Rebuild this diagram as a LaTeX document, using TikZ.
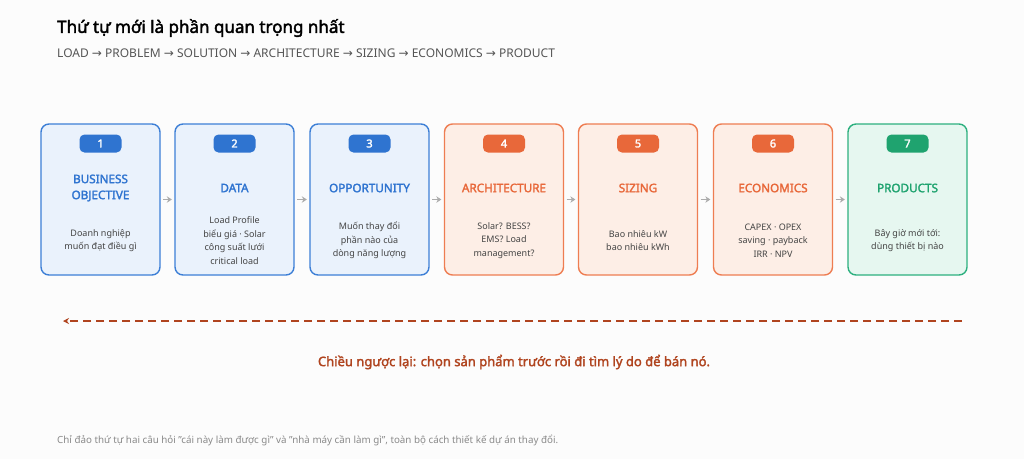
\documentclass[tikz,border=0pt]{standalone}
\usepackage{fontspec}
\setmainfont{Noto Sans}[AutoFakeBold=2.2]
\newfontfamily\arr{DejaVu Sans}
\usetikzlibrary{arrows.meta}
\definecolor{bg}{HTML}{FCFCFC}
\definecolor{bstroke}{HTML}{3D7FD6}
\definecolor{bfill}{HTML}{EAF2FC}
\definecolor{bdark}{HTML}{2F74D0}
\definecolor{ostroke}{HTML}{EE7D52}
\definecolor{ofill}{HTML}{FDEEE6}
\definecolor{odark}{HTML}{E8683A}
\definecolor{gstroke}{HTML}{2DB07F}
\definecolor{gfill}{HTML}{E6F7F0}
\definecolor{gdark}{HTML}{1FA36F}
\definecolor{txt}{HTML}{444444}
\definecolor{sub}{HTML}{555555}
\definecolor{foot}{HTML}{8A8A8A}
\definecolor{rev}{HTML}{B0441F}
\tikzset{
  card/.style={draw=#1stroke, fill=#1fill, line width=1.4pt, rounded corners=8pt, minimum width=119pt, minimum height=151pt, inner sep=0pt},
  badge/.style={fill=#1dark, rounded corners=5pt, minimum width=42pt, minimum height=18pt, inner sep=0pt, text=white, font=\fontsize{11}{13}\selectfont\bfseries},
  ctitle/.style={text=#1dark, font=\fontsize{11.7}{16}\selectfont\bfseries, align=center, inner sep=0pt},
  cbody/.style={text=txt, font=\fontsize{9}{13.5}\selectfont, align=center, inner sep=0pt},
  flow/.style={draw=gray!65, line width=1.3pt, -{Stealth[length=5pt,width=6.5pt]}, shorten <=2.5pt, shorten >=2.5pt},
}
\begin{document}
\begin{tikzpicture}[x=1pt,y=-1pt]
\useasboundingbox[fill=bg] (0,0) rectangle (1024,459);
\node[anchor=west, inner sep=0pt, font=\fontsize{17}{20}\selectfont\bfseries, text=black] (title) at (57,28) {Thứ tự mới là phần quan trọng nhất};
\node[anchor=west, inner sep=0pt, font=\fontsize{12}{14}\selectfont, text=sub] (subt) at (57,53) {LOAD {\arr→} PROBLEM {\arr→} SOLUTION {\arr→} ARCHITECTURE {\arr→} SIZING {\arr→} ECONOMICS {\arr→} PRODUCT};

\foreach \i/\x/\c/\t/\b in {
 1/100.5/b/{BUSINESS\\OBJECTIVE}/{Doanh nghiệp\\muốn đạt điều gì},
 2/234.5/b/{DATA}/{Load Profile\\biểu giá · Solar\\công suất lưới\\critical load},
 3/369.5/b/{OPPORTUNITY}/{Muốn thay đổi\\phần nào của\\dòng năng lượng},
 4/504/o/{ARCHITECTURE}/{Solar? BESS?\\EMS? Load\\management?},
 5/638/o/{SIZING}/{Bao nhiêu kW\\bao nhiêu kWh},
 6/773/o/{ECONOMICS}/{CAPEX · OPEX\\saving · payback\\IRR · NPV},
 7/907.5/g/{PRODUCTS}/{Bây giờ mới tới:\\dùng thiết bị nào}}{
  \node[card=\c] (c\i) at (\x,199.5) {};
  \node[badge=\c] (n\i) at (\x,143.5) {\i};
  \node[ctitle=\c] (t\i) at (\x,188) {\t};
  \node[cbody] (d\i) at (\x,240.5) {\b};
}
\foreach \a/\b in {1/2,2/3,3/4,4/5,5/6,6/7}{
  \draw[flow] (c\a.east) -- (c\b.west);
}
\coordinate (dR) at (962,321);
\coordinate (dL) at (63,321);
\draw[rev, line width=1.8pt, dash pattern=on 8pt off 5pt, -{Stealth[length=6pt,width=6pt]}] (dR) -- (dL);
\node[text=rev, font=\fontsize{13}{15}\selectfont\bfseries, inner sep=0pt] (cap) at (514,362) {Chiều ngược lại: chọn sản phẩm trước rồi đi tìm lý do để bán nó.};
\node[anchor=west, text=foot, font=\fontsize{9.8}{12}\selectfont, inner sep=0pt] (ft) at (57,440) {Chỉ đảo thứ tự hai câu hỏi "cái này làm được gì" và "nhà máy cần làm gì", toàn bộ cách thiết kế dự án thay đổi.};
\end{tikzpicture}
\end{document}
